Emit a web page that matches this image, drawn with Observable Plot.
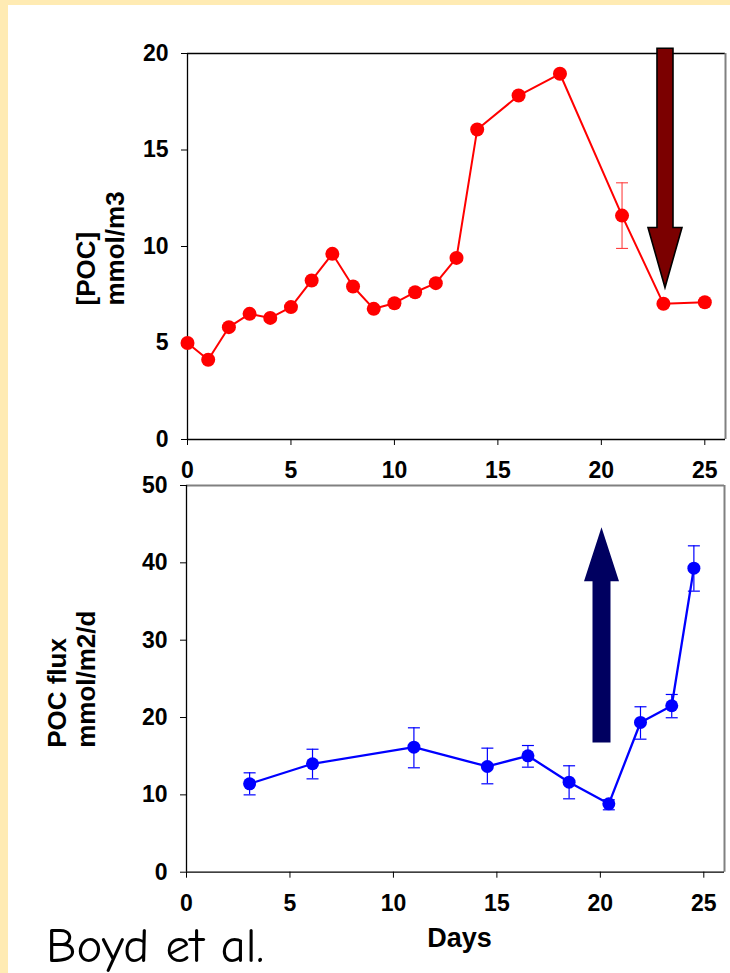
<!DOCTYPE html>
<html>
<head>
<meta charset="utf-8">
<script src="https://cdn.jsdelivr.net/npm/d3@7"></script>
<script src="https://cdn.jsdelivr.net/npm/@observablehq/plot@0.6"></script>
<style>
  html, body { margin: 0; padding: 0; }
  body { width: 730px; height: 973px; background: #FFEBB3; position: relative; overflow: hidden; }
  #panel { position: absolute; left: 8px; top: 5px; right: 0; bottom: 0; background: #ffffff; }
  .chart { position: absolute; left: 0; }
  #bottom { top: 440px; }
  #top { top: 0px; }
  #credit { position: absolute; left: 0; top: 0; }
</style>
</head>
<body>
<div id="panel"></div>
<div id="bottom" class="chart"></div>
<div id="top" class="chart"></div>
<svg id="credit" width="730" height="973" style="pointer-events:none">
  <text x="46" y="962" font-family="'Comic Neue', 'Comic Sans MS', 'DejaVu Sans', sans-serif" font-size="49" fill="#000">Boyd et al.</text>
</svg>
<script>
// ---- Data: particulate organic carbon concentration (top panel) ----
const pocDay   = [0, 1, 2, 3, 4, 5, 6, 7, 8, 9, 10, 11, 12, 13, 14, 16, 18, 21, 23, 25];
const pocValue = [5.0, 4.13, 5.82, 6.51, 6.30, 6.86, 8.24, 9.62, 7.93, 6.77, 7.06, 7.63, 8.10, 9.41, 16.06, 17.82, 18.95, 11.6, 7.03, 7.11];
const pocErrDay  = [21];
const pocErrLow  = [9.9];
const pocErrHigh = [13.3];

// ---- Data: POC flux (bottom panel) ----
const fluxDay   = [3.05, 6.09, 10.99, 14.54, 16.5, 18.49, 20.41, 21.94, 23.45, 24.52];
const fluxValue = [11.43, 14.02, 16.17, 13.67, 15.05, 11.64, 8.84, 19.36, 21.52, 39.31];
const fluxLow   = [10.0, 12.07, 13.5, 11.43, 13.58, 9.49, 8.07, 17.2, 19.97, 36.34];
const fluxHigh  = [12.85, 15.9, 18.67, 16.04, 16.38, 13.76, 9.36, 21.39, 22.98, 42.2];

// ---- Ticks & labels ----
const xTicks = [0, 5, 10, 15, 20, 25];
const xDomain = [0, 26];
const pocTicks = [0, 5, 10, 15, 20];
const fluxTicks = [0, 10, 20, 30, 40, 50];
const pocLabel = ["[POC]", "mmol/m3"];
const fluxLabel = ["POC flux", "mmol/m2/d"];
const xLabel = "Days";

// ---- Annotation arrows (day, from value, to value) ----
const pocArrow  = [{day: 23.1, from: 20.25, to: 7.85}];
const fluxArrow = [{day: 20.08, from: 16.7, to: 44.55}];

const poc = pocDay.map((d, i) => ({day: d, value: pocValue[i]}));
const pocErr = pocErrDay.map((d, i) => ({day: d, lo: pocErrLow[i], hi: pocErrHigh[i]}));
const flux = fluxDay.map((d, i) => ({day: d, value: fluxValue[i], lo: fluxLow[i], hi: fluxHigh[i]}));

const capSymbol = {
  draw(context, size) {
    const w = Math.sqrt(size / Math.PI);
    context.moveTo(-w, 0);
    context.lineTo(w, 0);
  }
};

function blockArrow(arr, o) {
  return (index, scales) => {
    const g = d3.create("svg:g");
    for (const a of arr) {
      const x = scales.x(a.day), y0 = scales.y(a.from), y1 = scales.y(a.to);
      const dir = Math.sign(y1 - y0);
      const yb = y1 - dir * o.headLen;
      const pts = [[x - o.shaft / 2, y0], [x + o.shaft / 2, y0], [x + o.shaft / 2, yb], [x + o.head / 2, yb],
                   [x, y1], [x - o.head / 2, yb], [x - o.shaft / 2, yb]];
      g.append("polygon")
        .attr("points", pts.map(p => p.join(",")).join(" "))
        .attr("fill", o.fill)
        .attr("stroke", o.stroke || "none")
        .attr("stroke-width", o.strokeWidth || 0)
        .attr("stroke-linejoin", "miter");
    }
    return g.node();
  };
}

const baseStyle = {
  fontFamily: "'Liberation Sans', Arial, Helvetica, sans-serif",
  fontSize: "23px",
  fontWeight: "bold",
  background: "none",
  overflow: "visible",
  color: "#000"
};

// ---- Top panel ----
const topPlot = Plot.plot({
  width: 730,
  height: 490,
  marginLeft: 187,
  marginRight: 5,
  marginTop: 53,
  marginBottom: 51,
  style: baseStyle,
  x: {domain: xDomain},
  y: {domain: [pocTicks[0], pocTicks[pocTicks.length - 1]]},
  marks: [
    Plot.ruleY([pocTicks[pocTicks.length - 1]], {stroke: "#000", strokeWidth: 1.3}),
    Plot.ruleX([xDomain[1]], {stroke: "#808080", strokeWidth: 2}),
    Plot.ruleX([xDomain[0]], {stroke: "#000", strokeWidth: 1.3}),
    Plot.ruleY([pocTicks[0]], {stroke: "#000", strokeWidth: 1.3}),
    Plot.axisY({ticks: pocTicks, tickSize: 6, tickPadding: 13, label: null, tickFormat: d => String(d)}),
    Plot.axisX({ticks: xTicks, tickSize: 6, tickPadding: 16, label: null, tickFormat: d => String(d)}),
    Plot.ruleX(pocErr, {x: "day", y1: "lo", y2: "hi", stroke: "#ff4040", strokeWidth: 1.1}),
    Plot.dot(pocErr, {x: "day", y: "lo", symbol: capSymbol, r: 6, stroke: "#ff4040", strokeWidth: 1.1, fill: "none"}),
    Plot.dot(pocErr, {x: "day", y: "hi", symbol: capSymbol, r: 6, stroke: "#ff4040", strokeWidth: 1.1, fill: "none"}),
    Plot.line(poc, {x: "day", y: "value", stroke: "#ff0000", strokeWidth: 2}),
    Plot.dot(poc, {x: "day", y: "value", r: 7, fill: "#ff0000", stroke: "none"}),
    blockArrow(pocArrow, {shaft: 16, head: 34, headLen: 60, fill: "#7B0000", stroke: "#000", strokeWidth: 1.6}),
    Plot.text([pocLabel.join("\n")], {frameAnchor: "left", rotate: -90, textAnchor: "start", lineAnchor: "middle",
      lineHeight: 1.12, dx: -87, dy: 59, fontSize: 26, fontWeight: "bold", fill: "#000"})
  ]
});
document.getElementById("top").appendChild(topPlot);

// ---- Bottom panel ----
const bottomPlot = Plot.plot({
  width: 730,
  height: 533,
  marginLeft: 186,
  marginRight: 6,
  marginTop: 45,
  marginBottom: 101.3,
  style: baseStyle,
  x: {domain: xDomain},
  y: {domain: [fluxTicks[0], fluxTicks[fluxTicks.length - 1]]},
  marks: [
    Plot.ruleY([fluxTicks[fluxTicks.length - 1]], {stroke: "#808080", strokeWidth: 2}),
    Plot.ruleX([xDomain[1]], {stroke: "#808080", strokeWidth: 2}),
    Plot.ruleX([xDomain[0]], {stroke: "#000", strokeWidth: 1.3}),
    Plot.ruleY([fluxTicks[0]], {stroke: "#000", strokeWidth: 1.3}),
    Plot.axisY({ticks: fluxTicks, tickSize: 6, tickPadding: 13, label: null, tickFormat: d => String(d)}),
    Plot.axisX({ticks: xTicks, tickSize: 6, tickPadding: 16, label: null, tickFormat: d => String(d)}),
    Plot.ruleX(flux, {x: "day", y1: "lo", y2: "hi", stroke: "#0000ff", strokeWidth: 1.2}),
    Plot.dot(flux, {x: "day", y: "lo", symbol: capSymbol, r: 6, stroke: "#0000ff", strokeWidth: 1.2, fill: "none"}),
    Plot.dot(flux, {x: "day", y: "hi", symbol: capSymbol, r: 6, stroke: "#0000ff", strokeWidth: 1.2, fill: "none"}),
    Plot.line(flux, {x: "day", y: "value", stroke: "#0000ff", strokeWidth: 2.3}),
    Plot.dot(flux, {x: "day", y: "value", r: 6.5, fill: "#0000ff", stroke: "none"}),
    blockArrow(fluxArrow, {shaft: 18, head: 35, headLen: 54, fill: "#000060"}),
    Plot.text([fluxLabel.join("\n")], {frameAnchor: "left", rotate: -90, textAnchor: "start", lineAnchor: "middle",
      lineHeight: 1.12, dx: -115, dy: 69, fontSize: 26, fontWeight: "bold", fill: "#000"}),
    Plot.text([xLabel], {frameAnchor: "bottom", dx: 4, dy: 75, fontSize: 27, fontWeight: "bold", fill: "#000"})
  ]
});
document.getElementById("bottom").appendChild(bottomPlot);
</script>
</body>
</html>
